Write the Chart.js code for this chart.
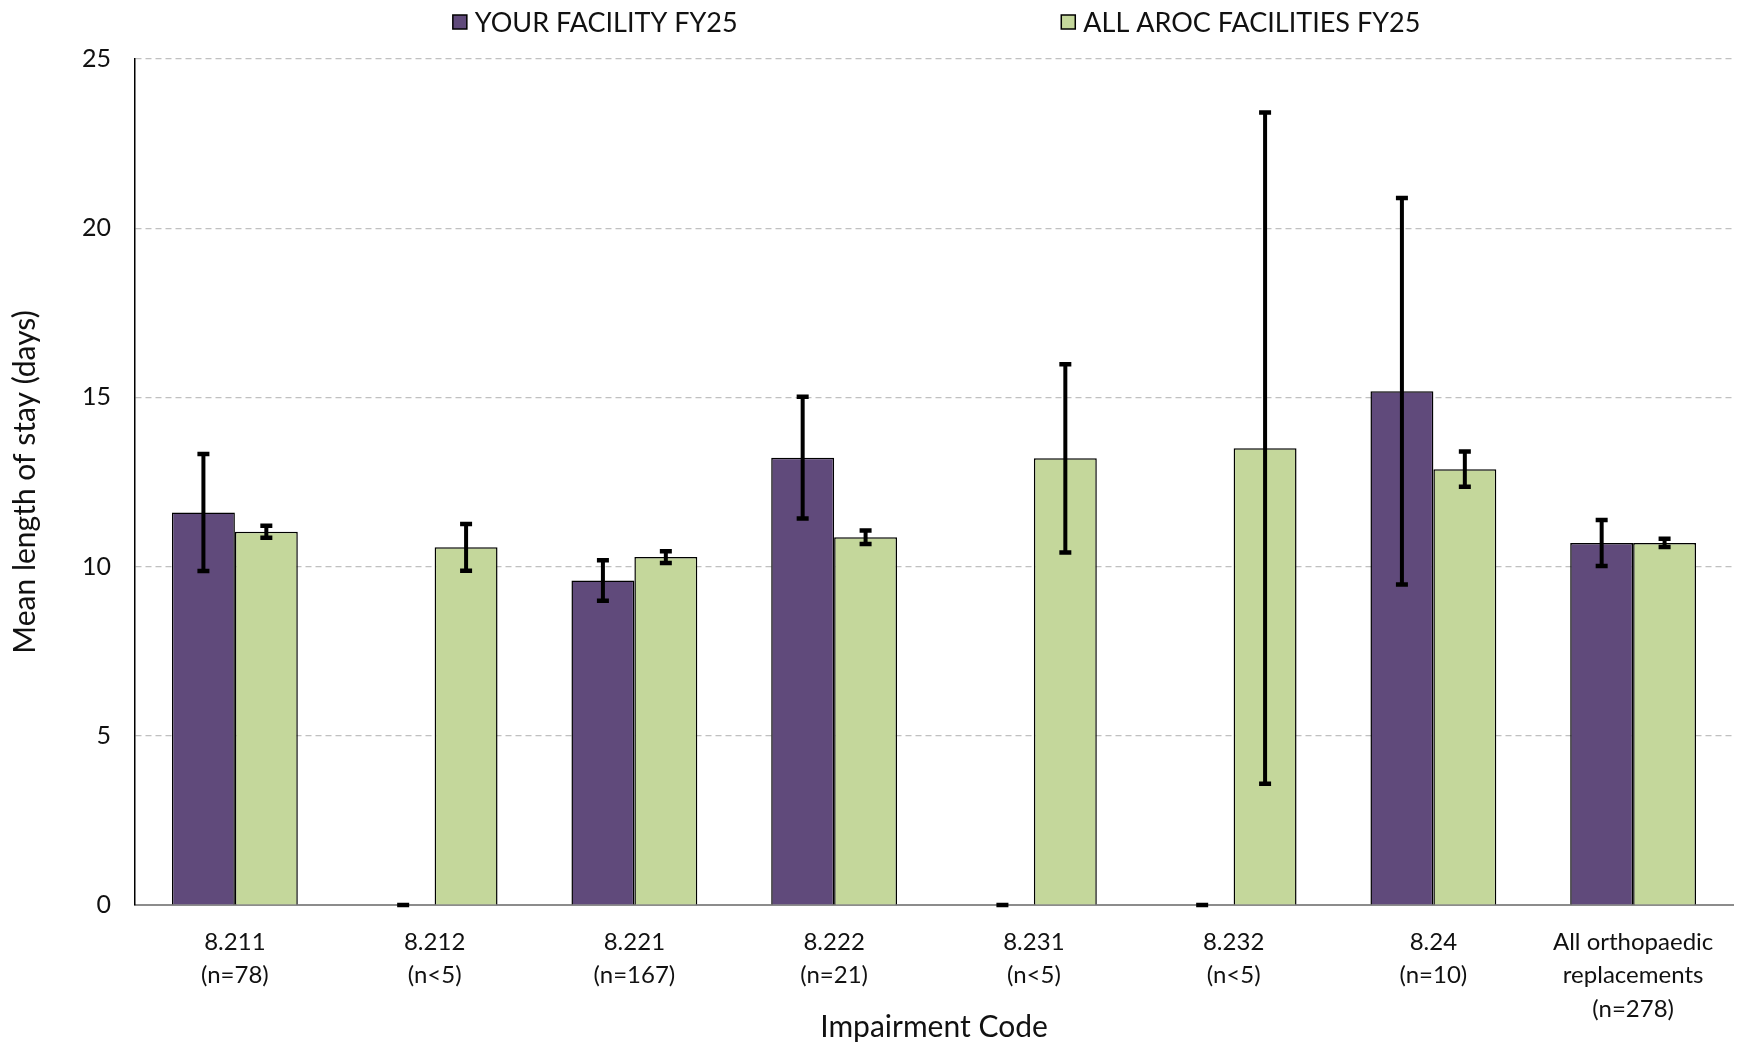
<!DOCTYPE html>
<html>
<head>
<meta charset="utf-8">
<script src="https://cdn.jsdelivr.net/npm/chart.js@4.4.1/dist/chart.umd.min.js"></script>
<style>
  html, body { margin: 0; padding: 0; background: #fff; }
  #wrap { width: 1744px; height: 1046px; }
</style>
</head>
<body>
<div id="wrap"><canvas id="myChart" width="1744" height="1046"></canvas></div>
<script>
// DATA
const categories = [
    ['8.211', '(n=78)'],
    ['8.212', '(n<5)'],
    ['8.221', '(n=167)'],
    ['8.222', '(n=21)'],
    ['8.231', '(n<5)'],
    ['8.232', '(n<5)'],
    ['8.24', '(n=10)'],
    ['All orthopaedic', 'replacements', '(n=278)']
];
const seriesNames = ['YOUR FACILITY FY25', 'ALL AROC FACILITIES FY25'];
const yourFacility = [11.6, 0, 9.59, 13.22, 0, 0, 15.18, 10.7];
const yourFacilityErr = [1.73, 0, 0.6, 1.8, 0, 0, 5.71, 0.68];
const allAroc = [11.03, 10.57, 10.28, 10.87, 13.2, 13.5, 12.88, 10.7];
const allArocErr = [0.18, 0.69, 0.17, 0.2, 2.78, 9.92, 0.52, 0.12];
const yTicks = [0, 5, 10, 15, 20, 25];

const PURPLE = '#604a7b';
const GREEN = '#c4d79b';
const FONT = 'Lato';

Chart.defaults.font.family = FONT;
Chart.defaults.color = '#111';

// ERROR BARS, DRAWN THROUGH THE Y SCALE
const errorBars = {
    id: 'errorBars',
    afterDatasetsDraw(chart) {
        const ctx = chart.ctx;
        const y = chart.scales.y;
        ctx.save();
        ctx.strokeStyle = '#000';
        ctx.lineCap = 'butt';
        chart.data.datasets.forEach((ds, i) => {
            const meta = chart.getDatasetMeta(i);
            meta.data.forEach((bar, j) => {
                const v = ds.data[j];
                const e = ds.errors[j];
                const top = y.getPixelForValue(v + e);
                const bot = y.getPixelForValue(v - e);
                const x = bar.x;
                ctx.lineWidth = 4;
                ctx.beginPath();
                ctx.moveTo(x, top);
                ctx.lineTo(x, bot);
                ctx.stroke();
                ctx.lineWidth = 4.5;
                ctx.beginPath();
                ctx.moveTo(x - 6, top);
                ctx.lineTo(x + 6, top);
                ctx.moveTo(x - 6, bot);
                ctx.lineTo(x + 6, bot);
                ctx.stroke();
            });
        });
        ctx.restore();
    }
};

// LEGEND ACROSS THE TOP, TWO ITEMS SPREAD APART
const topLegend = {
    id: 'topLegend',
    afterDraw(chart) {
        const ctx = chart.ctx;
        const area = chart.chartArea;
        const centers = [0.288, 0.692];
        ctx.save();
        ctx.font = '27px ' + FONT;
        ctx.textBaseline = 'middle';
        ctx.textAlign = 'left';
        chart.data.datasets.forEach((ds, i) => {
            const textW = ctx.measureText(ds.label).width;
            const box = 14;
            const gap = 8;
            const total = box + gap + textW;
            const cx = area.left + centers[i] * (area.right - area.left);
            const left = cx - total / 2;
            const cy = 22;
            ctx.fillStyle = ds.backgroundColor;
            ctx.fillRect(left, cy - box / 2, box, box);
            ctx.lineWidth = 1.5;
            ctx.strokeStyle = '#000';
            ctx.strokeRect(left, cy - box / 2, box, box);
            ctx.fillStyle = '#111';
            ctx.fillText(ds.label, left + box + gap, cy + 1);
        });
        ctx.restore();
    }
};

const ctx = document.getElementById('myChart').getContext('2d');
new Chart(ctx, {
    type: 'bar',
    data: {
        labels: categories,
        datasets: [{
            label: seriesNames[0],
            data: yourFacility,
            errors: yourFacilityErr,
            backgroundColor: PURPLE,
            borderColor: '#000',
            borderWidth: 1.5,
            borderSkipped: 'bottom'
        },
        {
            label: seriesNames[1],
            data: allAroc,
            errors: allArocErr,
            backgroundColor: GREEN,
            borderColor: '#000',
            borderWidth: 1.5,
            borderSkipped: 'bottom'
        }]
    },
    options: {
        responsive: false,
        animation: false,
        layout: { padding: { top: 59, right: 11, bottom: 0, left: 0 } },
        datasets: { bar: { categoryPercentage: 0.63, barPercentage: 1.0 } },
        plugins: {
            legend: { display: false },
            tooltip: { enabled: false }
        },
        scales: {
            x: {
                grid: { display: false, drawTicks: false },
                border: { display: true, color: '#8c8c8c', width: 2 },
                ticks: {
                    font: { size: 24, lineHeight: 1.4 },
                    padding: 20,
                    maxRotation: 0,
                    autoSkip: false
                },
                title: {
                    display: true,
                    text: 'Impairment Code',
                    font: { size: 30 },
                    padding: { top: 0, bottom: 1 }
                },
                afterFit(scale) { scale.height = 141; }
            },
            y: {
                min: 0,
                max: 25,
                afterBuildTicks(scale) {
                    scale.ticks = yTicks.map(v => ({ value: v }));
                },
                grid: { color: '#c0c0c0', lineWidth: 1.2, drawTicks: false },
                border: { display: true, color: '#000', width: 1.5, dash: [6, 4] },
                ticks: {
                    font: { size: 25 },
                    padding: 24
                },
                title: {
                    display: true,
                    text: 'Mean length of stay (days)',
                    font: { size: 30 },
                    padding: { top: 7, bottom: 0 }
                },
                afterFit(scale) { scale.width = 135; }
            }
        }
    },
    plugins: [errorBars, topLegend]
});
</script>
</body>
</html>
